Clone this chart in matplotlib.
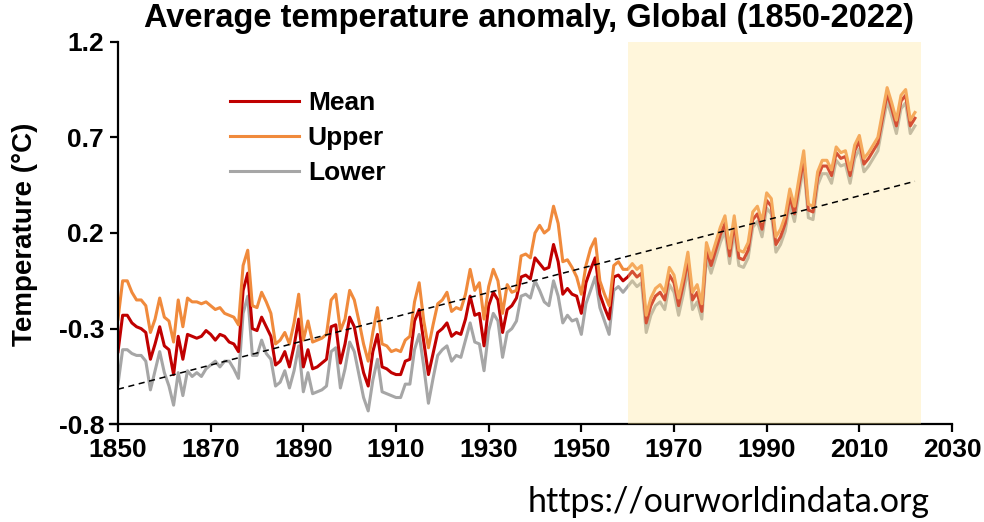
import numpy as np
import matplotlib
matplotlib.use("Agg")
import matplotlib.pyplot as plt

# annual global temperature anomaly, 1850-2022
years = np.arange(1850, 2023)

mean = [
    -0.42, -0.23, -0.23, -0.27, -0.29, -0.30, -0.32, -0.46, -0.38, -0.29,  # 1850s
    -0.39, -0.41, -0.54, -0.34, -0.46, -0.33, -0.34, -0.35, -0.34, -0.31,  # 1860s
    -0.33, -0.36, -0.33, -0.34, -0.37, -0.38, -0.42, -0.10, -0.01, -0.30,  # 1870s
    -0.31, -0.24, -0.29, -0.34, -0.49, -0.47, -0.42, -0.50, -0.39, -0.25,  # 1880s
    -0.50, -0.41, -0.51, -0.50, -0.48, -0.46, -0.29, -0.28, -0.48, -0.38,  # 1890s
    -0.24, -0.29, -0.42, -0.53, -0.60, -0.42, -0.33, -0.50, -0.51, -0.53,  # 1900s
    -0.54, -0.54, -0.47, -0.46, -0.26, -0.20, -0.37, -0.54, -0.43, -0.32,  # 1910s
    -0.30, -0.27, -0.34, -0.32, -0.33, -0.25, -0.13, -0.23, -0.22, -0.39,  # 1920s
    -0.18, -0.11, -0.15, -0.32, -0.20, -0.18, -0.14, -0.03, -0.02, -0.04,  # 1930s
    0.07, 0.04, 0.01, 0.02, 0.14, 0.05, -0.12, -0.09, -0.12, -0.13,  # 1940s
    -0.22, -0.06, 0.01, 0.07, -0.12, -0.19, -0.25, -0.03, -0.02, -0.05,  # 1950s
    -0.03, 0.00, -0.03, -0.01, -0.27, -0.18, -0.13, -0.11, -0.15, -0.02,  # 1960s
    -0.06, -0.18, -0.07, 0.06, -0.15, -0.11, -0.21, 0.11, 0.03, 0.11,  # 1970s
    0.19, 0.25, 0.08, 0.25, 0.07, 0.06, 0.11, 0.27, 0.30, 0.22,  # 1980s
    0.37, 0.34, 0.14, 0.18, 0.25, 0.39, 0.30, 0.45, 0.59, 0.32,  # 1990s
    0.31, 0.49, 0.55, 0.55, 0.50, 0.62, 0.59, 0.60, 0.50, 0.63,  # 2000s
    0.68, 0.56, 0.59, 0.63, 0.67, 0.80, 0.93, 0.85, 0.76, 0.89,  # 2010s
    0.92, 0.76, 0.80,  # 2020-2022
]

upper = [
    -0.25, -0.05, -0.05, -0.11, -0.15, -0.15, -0.18, -0.32, -0.25, -0.14,
    -0.24, -0.26, -0.37, -0.15, -0.29, -0.14, -0.16, -0.16, -0.17, -0.16,
    -0.18, -0.20, -0.19, -0.22, -0.23, -0.24, -0.28, 0.03, 0.11, -0.18,
    -0.19, -0.11, -0.16, -0.22, -0.38, -0.36, -0.32, -0.38, -0.27, -0.12,
    -0.36, -0.26, -0.37, -0.36, -0.35, -0.33, -0.15, -0.12, -0.31, -0.25,
    -0.10, -0.15, -0.26, -0.38, -0.47, -0.32, -0.19, -0.38, -0.39, -0.42,
    -0.41, -0.42, -0.36, -0.34, -0.16, -0.06, -0.26, -0.40, -0.28, -0.17,
    -0.15, -0.11, -0.21, -0.19, -0.20, -0.12, 0.01, -0.10, -0.06, -0.25,
    -0.08, 0.01, -0.05, -0.22, -0.07, -0.11, -0.10, 0.08, 0.09, 0.07,
    0.20, 0.24, 0.20, 0.22, 0.34, 0.25, 0.05, 0.06, 0.02, -0.03,
    -0.12, 0.03, 0.12, 0.17, -0.05, -0.12, -0.18, 0.03, 0.05, 0.01,
    0.01, 0.04, 0.01, 0.03, -0.23, -0.14, -0.09, -0.07, -0.11, 0.02,
    -0.02, -0.14, -0.03, 0.10, -0.11, -0.07, -0.17, 0.15, 0.07, 0.15,
    0.23, 0.29, 0.12, 0.29, 0.11, 0.10, 0.15, 0.31, 0.34, 0.26,
    0.41, 0.38, 0.18, 0.22, 0.29, 0.43, 0.34, 0.49, 0.63, 0.35,
    0.34, 0.52, 0.58, 0.58, 0.53, 0.65, 0.62, 0.63, 0.53, 0.66,
    0.71, 0.59, 0.62, 0.66, 0.70, 0.83, 0.96, 0.88, 0.79, 0.92,
    0.95, 0.79, 0.83,
]

lower = [
    -0.59, -0.41, -0.41, -0.43, -0.44, -0.44, -0.47, -0.62, -0.52, -0.42,
    -0.53, -0.60, -0.70, -0.53, -0.65, -0.52, -0.55, -0.53, -0.55, -0.51,
    -0.49, -0.47, -0.50, -0.47, -0.47, -0.51, -0.56, -0.22, -0.13, -0.44,
    -0.44, -0.36, -0.43, -0.46, -0.60, -0.58, -0.52, -0.61, -0.52, -0.39,
    -0.63, -0.53, -0.64, -0.63, -0.62, -0.60, -0.42, -0.40, -0.61, -0.51,
    -0.37, -0.42, -0.54, -0.66, -0.73, -0.57, -0.46, -0.63, -0.64, -0.65,
    -0.66, -0.66, -0.59, -0.59, -0.41, -0.33, -0.50, -0.69, -0.56, -0.44,
    -0.41, -0.39, -0.47, -0.44, -0.45, -0.36, -0.27, -0.37, -0.38, -0.52,
    -0.31, -0.22, -0.26, -0.45, -0.32, -0.30, -0.26, -0.13, -0.12, -0.14,
    -0.05, -0.10, -0.16, -0.18, -0.05, -0.13, -0.27, -0.23, -0.26, -0.25,
    -0.33, -0.17, -0.10, -0.03, -0.19, -0.26, -0.33, -0.10, -0.08, -0.11,
    -0.08, -0.05, -0.08, -0.06, -0.32, -0.23, -0.18, -0.16, -0.20, -0.07,
    -0.11, -0.23, -0.12, 0.01, -0.20, -0.16, -0.25, 0.07, -0.01, 0.07,
    0.15, 0.21, 0.04, 0.21, 0.03, 0.02, 0.07, 0.23, 0.26, 0.18,
    0.33, 0.30, 0.10, 0.14, 0.21, 0.35, 0.26, 0.41, 0.55, 0.28,
    0.27, 0.45, 0.51, 0.51, 0.46, 0.58, 0.55, 0.56, 0.46, 0.59,
    0.64, 0.52, 0.55, 0.59, 0.63, 0.76, 0.89, 0.81, 0.72, 0.85,
    0.88, 0.72, 0.76,
]

xticks = [1850, 1870, 1890, 1910, 1930, 1950, 1970, 1990, 2010, 2030]
yticks = [-0.8, -0.3, 0.2, 0.7, 1.2]

plt.rcParams["font.family"] = ["Liberation Sans", "DejaVu Sans"]
plt.rcParams["font.weight"] = "bold"

fig = plt.figure(figsize=(9.84, 5.22), dpi=100)
ax = fig.add_axes([118 / 984, 97.7 / 522, 834 / 984, 382.6 / 522])

ax.plot(years, lower, color="#A6A6A6", lw=2.2, label="Lower", zorder=2)
ax.plot(years, mean, color="#C00000", lw=2.2, label="Mean", zorder=2.1)
ax.plot(years, upper, color="#F08A3C", lw=2.2, label="Upper", zorder=2.2)

# linear trend of the mean
k, b = np.polyfit(years, mean, 1)
ax.plot(years, k * years + b, color="black", lw=1.1, ls=(0, (4, 3)), zorder=4)

# recent period highlight, drawn over the lines like the original
ax.axvspan(1960, 2023.3, color="#FFE699", alpha=0.35, lw=0, zorder=3)

ax.set_xlim(1850, 2030)
ax.set_ylim(-0.8, 1.2)
ax.set_xticks(xticks)
ax.set_yticks(yticks)
ax.set_yticklabels(["-0.8", "-0.3", "0.2", "0.7", "1.2"])
ax.tick_params(labelsize=19, width=1.6, length=6, direction="out", pad=4)

for s in ["top", "right"]:
    ax.spines[s].set_visible(False)
for s in ["left", "bottom"]:
    ax.spines[s].set_linewidth(1.6)
ax.spines["bottom"].set_bounds(1848.3, 2030)

h, l = ax.get_legend_handles_labels()
order = [1, 2, 0]
leg = ax.legend([h[i] for i in order], [l[i] for i in order],
                loc="upper left", bbox_to_anchor=(230 / 984, 1 - 91 / 522),
                bbox_transform=fig.transFigure, frameon=False,
                fontsize=19, handlelength=2.6, handletextpad=0.35,
                labelspacing=0.42, borderpad=0, borderaxespad=0)

fig.text(529 / 984, 1 - 18 / 522, "Average temperature anomaly, Global (1850-2022)",
         ha="center", va="center", fontsize=23.5, fontweight="bold")
fig.text(25 / 984, 1 - 234 / 522, "Temperature (°C)", rotation=90,
         ha="center", va="center", fontsize=20, fontweight="bold")
fig.text(930 / 984, 4 / 522, "https://ourworldindata.org", ha="right", va="bottom",
         fontsize=24.5, fontweight="normal", family=["Lato", "DejaVu Sans"])

fig.savefig("out.png", dpi=100)
